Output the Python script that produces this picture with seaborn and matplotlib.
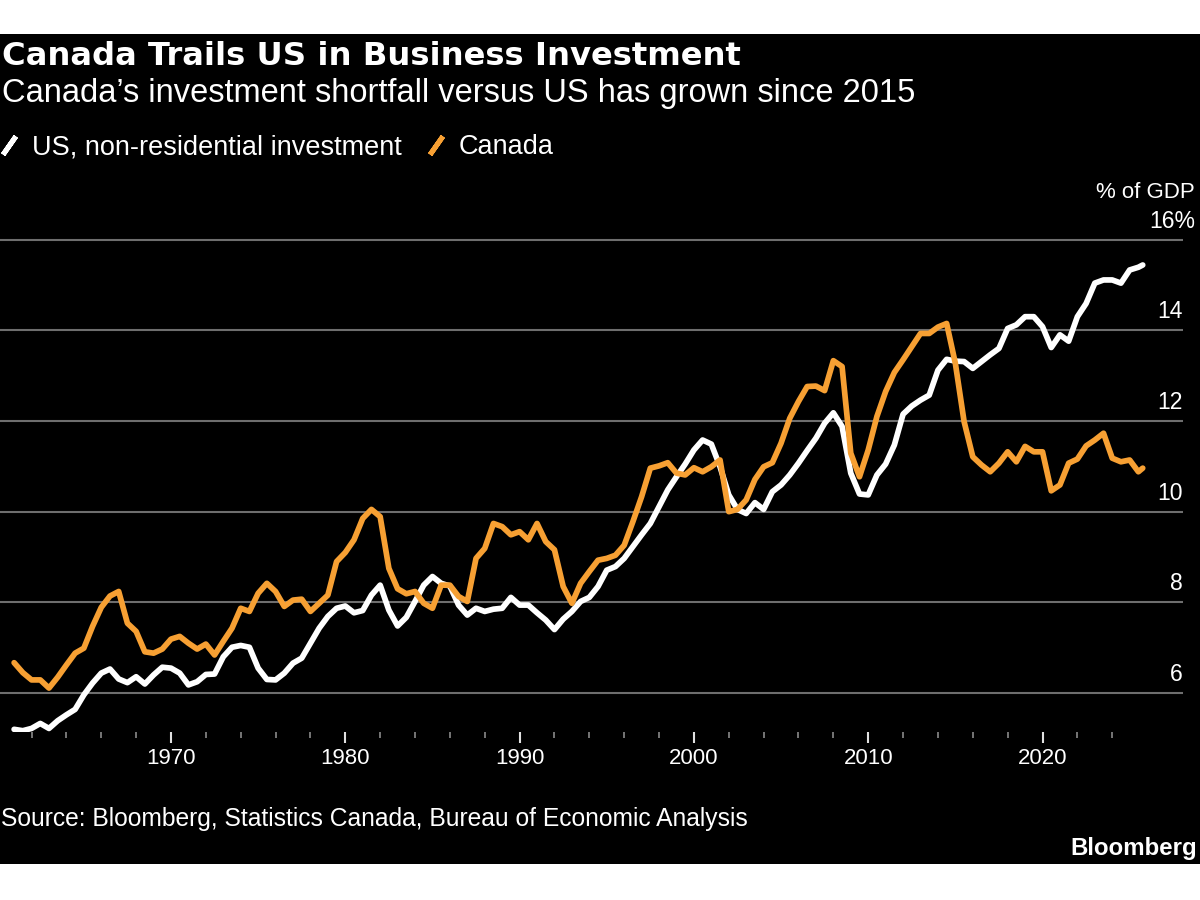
import matplotlib
matplotlib.use("Agg")
import numpy as np
import pandas as pd
import seaborn as sns
import matplotlib.pyplot as plt
import matplotlib.transforms as mtransforms
from matplotlib.lines import Line2D
from matplotlib.patches import Rectangle

# half-year samples, last point is the latest quarter
years = list(np.arange(1961.0, 2025.51, 0.5)) + [2025.75]

us_invest = [
    5.20, 5.17, 5.22, 5.33, 5.22, 5.39, 5.52, 5.64, 5.96, 6.22,
    6.44, 6.53, 6.31, 6.23, 6.36, 6.20, 6.40, 6.57, 6.55, 6.44,
    6.18, 6.25, 6.41, 6.42, 6.80, 7.01, 7.05, 7.01, 6.55, 6.30,
    6.29, 6.44, 6.66, 6.77, 7.10, 7.43, 7.69, 7.87, 7.92, 7.77,
    7.82, 8.16, 8.38, 7.83, 7.48, 7.67, 8.02, 8.38, 8.57, 8.42,
    8.36, 7.94, 7.72, 7.87, 7.80, 7.85, 7.87, 8.11, 7.94, 7.94,
    7.77, 7.61, 7.40, 7.63, 7.80, 8.02, 8.11, 8.35, 8.71, 8.79,
    8.97, 9.23, 9.49, 9.74, 10.11, 10.48, 10.77, 11.05, 11.36, 11.58,
    11.49, 10.99, 10.37, 10.05, 9.96, 10.20, 10.05, 10.44, 10.59, 10.81,
    11.07, 11.35, 11.62, 11.95, 12.18, 11.88, 10.85, 10.39, 10.37, 10.81,
    11.05, 11.47, 12.15, 12.33, 12.46, 12.57, 13.12, 13.36, 13.32, 13.31,
    13.16, 13.31, 13.46, 13.60, 14.04, 14.12, 14.30, 14.30, 14.08, 13.62,
    13.90, 13.76, 14.30, 14.59, 15.04, 15.11, 15.11, 15.04, 15.33, 15.39,
    15.44,
]

canada_invest = [
    6.67, 6.45, 6.29, 6.29, 6.11, 6.35, 6.62, 6.88, 6.99, 7.47,
    7.89, 8.14, 8.24, 7.54, 7.36, 6.91, 6.88, 6.97, 7.19, 7.25,
    7.10, 6.97, 7.08, 6.84, 7.14, 7.43, 7.87, 7.80, 8.20, 8.42,
    8.24, 7.91, 8.05, 8.07, 7.80, 7.98, 8.16, 8.90, 9.10, 9.38,
    9.85, 10.05, 9.89, 8.75, 8.30, 8.19, 8.24, 7.98, 7.87, 8.38,
    8.38, 8.13, 8.02, 8.97, 9.19, 9.74, 9.67, 9.49, 9.56, 9.38,
    9.74, 9.34, 9.16, 8.35, 7.98, 8.42, 8.68, 8.93, 8.97, 9.04,
    9.26, 9.78, 10.33, 10.96, 11.01, 11.08, 10.85, 10.81, 10.97, 10.88,
    10.99, 11.14, 10.00, 10.05, 10.26, 10.71, 10.99, 11.08, 11.51, 12.06,
    12.43, 12.76, 12.77, 12.67, 13.33, 13.20, 11.29, 10.77, 11.36, 12.10,
    12.65, 13.07, 13.35, 13.64, 13.93, 13.93, 14.07, 14.15, 13.27, 11.99,
    11.21, 11.03, 10.88, 11.07, 11.32, 11.10, 11.44, 11.32, 11.32, 10.46,
    10.59, 11.07, 11.16, 11.45, 11.58, 11.73, 11.18, 11.10, 11.14, 10.88,
    10.96,
]

series_names = ["US, non-residential investment", "Canada"]
series_colors = ["#ffffff", "#f7a033"]
y_ticks = [6, 8, 10, 12, 14, 16]
y_labels = ["6", "8", "10", "12", "14", "16%"]
x_major = [1970, 1980, 1990, 2000, 2010, 2020]
x_minor = list(range(1962, 2025, 2))

df = pd.DataFrame({
    "year": years * 2,
    "value": us_invest + canada_invest,
    "series": [series_names[0]] * len(years) + [series_names[1]] * len(years),
})

sns.set_theme(style="dark")
plt.rcParams["font.family"] = ["Liberation Sans", "DejaVu Sans"]
plt.rcParams["lines.solid_joinstyle"] = "round"
plt.rcParams["lines.solid_capstyle"] = "round"

fig = plt.figure(figsize=(12, 9), dpi=100, facecolor="white")
# black card between the white strips at top and bottom
fig.patches.append(Rectangle((0, 36 / 900), 1, 830 / 900, transform=fig.transFigure,
                             facecolor="black", edgecolor="none", zorder=-10))

ax = fig.add_axes([0, 0.1871, 1183 / 1200, 0.5618])
ax.set_facecolor("none")

sns.lineplot(data=df, x="year", y="value", hue="series", hue_order=series_names,
             palette=series_colors, linewidth=4.1, legend=False, ax=ax)

ax.set_xlim(1960.19, 2028.06)
ax.set_ylim(5.15, 16.3)
for s in ax.spines.values():
    s.set_visible(False)

ax.set_yticks(y_ticks)
ax.tick_params(axis="y", length=0, labelleft=False)
ax.grid(axis="y", color="#6e6e6e", linewidth=1.5)
ax.grid(axis="x", visible=False)

ax.set_xticks(x_major)
ax.set_xticks(x_minor, minor=True)
ax.set_xticklabels([str(y) for y in x_major])
ax.tick_params(axis="x", which="major", direction="out", length=8, width=1.5,
               color="#e0e0e0", labelcolor="white", labelsize=16, pad=3.5, bottom=True)
ax.tick_params(axis="x", which="minor", direction="out", length=4.3, width=1.2,
               color="#8a8a8a", bottom=True)
ax.set_xlabel("")
ax.set_ylabel("")

# y labels sit just above their gridlines on the right
ytrans = mtransforms.blended_transform_factory(ax.transAxes, ax.transData)
ytrans = ytrans + mtransforms.ScaledTranslation(0, 12 / 100, fig.dpi_scale_trans)
for v, lab in zip(y_ticks, y_labels):
    xpos = 1.0 if not lab.endswith("%") else 1195 / 1183
    ax.text(xpos, v, lab, transform=ytrans, ha="right", va="baseline",
            color="white", fontsize=16.5)
fig.text(1195 / 1200, 1 - 198 / 900, "% of GDP", ha="right", va="baseline",
         color="white", fontsize=16)

renderer = fig.canvas.get_renderer()


def fit_width(t, width_px):
    w = t.get_window_extent(renderer).width
    t.set_fontsize(t.get_fontsize() * width_px / w)


title = fig.text(0.002, 1 - 65 / 900, "Canada Trails US in Business Investment",
                 ha="left", va="baseline", color="white", fontsize=22,
                 fontweight="bold", family=["DejaVu Sans"])
fit_width(title, 738)
subtitle = fig.text(0.002, 1 - 102 / 900,
                    "Canada\u2019s investment shortfall versus US has grown since 2015",
                    ha="left", va="baseline", color="white", fontsize=22)
fit_width(subtitle, 910)
source = fig.text(0.001, 1 - 826 / 900,
                  "Source: Bloomberg, Statistics Canada, Bureau of Economic Analysis",
                  ha="left", va="baseline", color="white", fontsize=18)
fit_width(source, 748)
brand = fig.text(1197 / 1200, 1 - 855 / 900, "Bloomberg", ha="right", va="baseline",
                 color="white", fontsize=18, fontweight="bold")
fit_width(brand, 127)

handles = [Line2D([0], [0], color=c, marker=(2, 2, -35), linestyle="none",
                  markersize=16, markeredgewidth=3.6) for c in series_colors]
leg = fig.legend(handles, series_names, loc="center left", bbox_to_anchor=(0.0, 1 - 147 / 900),
                 ncol=2, frameon=False, fontsize=19.5, handlelength=0.7, handletextpad=0.5,
                 columnspacing=0.9, borderpad=0, borderaxespad=0)
for t in leg.get_texts():
    t.set_color("white")

fig.savefig("out.png", dpi=100, facecolor=fig.get_facecolor())
